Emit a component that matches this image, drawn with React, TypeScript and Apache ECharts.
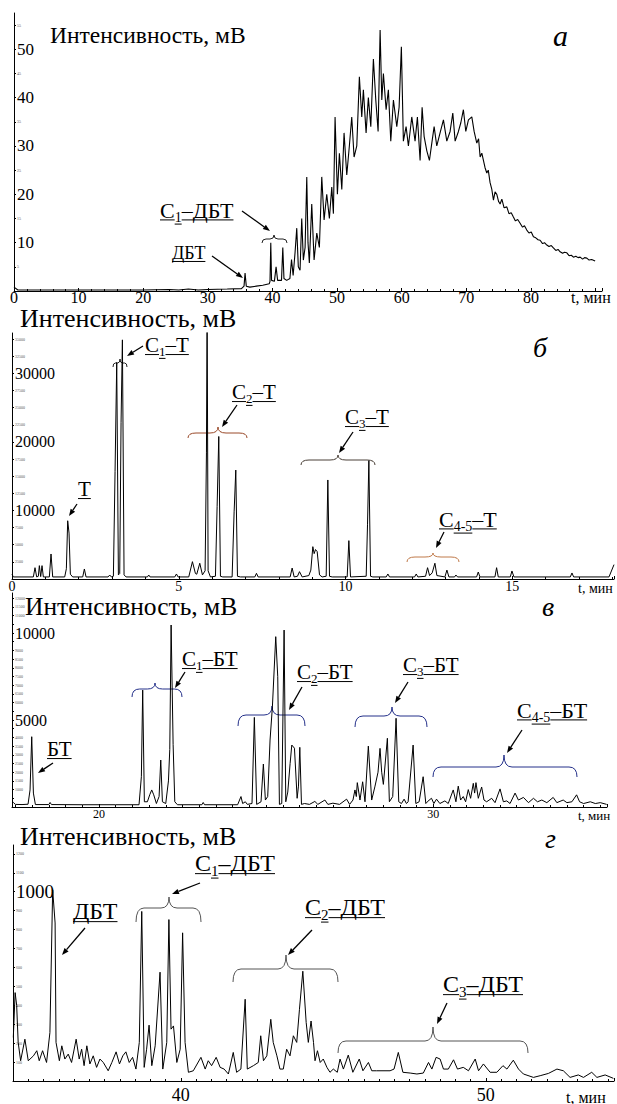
import React, { useEffect, useRef } from 'react';
import * as echarts from 'echarts';

const SERIF = "'Liberation Serif', serif";

// ---------- data (time, min ; intensity, mV) ----------
const traceA: [number, number][] = [
  [0, 0.8], [0.6, 0.2], [5, 0.2], [10, 0.2], [15, 0.2], [20, 0.2], [24, 0.3], [25.5, 0.2], [27, 0.4], [28.5, 0.2],
  [30, 0.3], [33, 0.4], [35.2, 0.5], [35.6, 1.0], [35.76, 3.7], [35.95, 1.0], [36.5, 0.8], [37.5, 1.0], [38.5, 1.2],
  [39.5, 1.5], [39.62, 2], [39.74, 10], [39.86, 2.2], [40.3, 2.0], [40.56, 5], [40.8, 2.2], [41.4, 2.2], [41.6, 9],
  [41.78, 2.6], [42.2, 2.2], [42.7, 2.6], [42.95, 6.5], [43.2, 3.2], [43.5, 8], [43.76, 13], [44.0, 5], [44.27, 4.3],
  [44.53, 15], [44.78, 6.4], [45.05, 9], [45.31, 23.6], [45.5, 10], [45.71, 5.8], [46.08, 18], [46.44, 6.4], [46.86, 12],
  [47.26, 9], [47.63, 23.6], [47.99, 14.7], [48.4, 20], [48.81, 15], [49.18, 21.5], [49.43, 16], [49.69, 36], [50.05, 20],
  [50.36, 28.5], [50.73, 21], [51.08, 32.7], [51.5, 24], [51.9, 30], [52.27, 36], [52.63, 27.7], [53.05, 30], [53.45, 44.3],
  [53.82, 36], [54.07, 41.6], [54.49, 32.7], [54.84, 40], [55.22, 34], [55.62, 48], [55.99, 39.5], [56.35, 33], [56.66, 54],
  [56.92, 39.5], [57.17, 45], [57.59, 37.5], [57.94, 41.6], [58.31, 31], [58.72, 39.5], [59.24, 34], [59.6, 38], [59.95, 50.5],
  [60.26, 31], [60.68, 34], [61.04, 30], [61.56, 36], [62.07, 31], [62.43, 36], [62.85, 27], [63.16, 38], [63.47, 32],
  [63.89, 29], [64.29, 27], [64.66, 30.6], [65.02, 34], [65.43, 30], [65.94, 32.7], [66.46, 35.4], [66.98, 31], [67.49, 33],
  [67.91, 36.8], [68.27, 31], [68.78, 33], [69.15, 34.8], [69.55, 37.5], [69.92, 33], [70.33, 35.4], [70.85, 36], [71.21, 33],
  [71.62, 30.6], [71.9, 31.5], [72.14, 27.7], [72.4, 28.5], [72.65, 27], [72.9, 25.5], [73.17, 24.4], [73.4, 25], [73.68, 22.4],
  [73.95, 21], [74.2, 18.8], [74.45, 20.5], [74.72, 20], [75.0, 18.5], [75.23, 18], [75.5, 19], [75.85, 17.2], [76.27, 17.4],
  [76.6, 16], [76.95, 16.2], [77.29, 15.3], [77.6, 14.5], [77.95, 14.8], [78.33, 14], [78.7, 13.2], [79.0, 13.5], [79.36, 12.6],
  [79.7, 12.0], [80.05, 12.2], [80.39, 11.2], [80.75, 11.0], [81.1, 10.6], [81.42, 10.5], [81.8, 9.8], [82.1, 10.0], [82.46, 9.5],
  [82.8, 9.2], [83.15, 9.4], [83.48, 8.9], [83.85, 8.4], [84.2, 8.6], [84.52, 8.1], [84.9, 7.8], [85.2, 8.0], [85.56, 7.9],
  [85.9, 7.3], [86.25, 7.4], [86.58, 7.0], [86.95, 7.2], [87.3, 6.9], [87.62, 7], [88.0, 6.6], [88.3, 6.9], [88.65, 6.8],
  [89.0, 6.4], [89.4, 6.5], [89.94, 6.2],
];

const traceB: [number, number][] = [
  [0, 700], [0.04, 300], [0.64, 300], [0.69, 1650], [0.74, 300], [0.79, 400], [0.82, 1950], [0.86, 350], [0.9, 1950],
  [0.94, 300], [1.12, 300], [1.17, 3650], [1.22, 300], [1.58, 300], [1.63, 1500], [1.67, 8500], [1.71, 6700], [1.75, 700],
  [1.82, 300], [2.12, 300], [2.17, 1460], [2.22, 300], [2.88, 300], [2.93, 580], [2.98, 300], [3.04, 400], [3.09, 15660],
  [3.14, 31600], [3.19, 600], [3.23, 800], [3.27, 22800], [3.31, 34900], [3.36, 600], [3.42, 300], [4.06, 300], [4.1, 580],
  [4.14, 300], [4.88, 300], [4.93, 730], [4.98, 300], [5.3, 300], [5.41, 2530], [5.5, 800], [5.54, 700], [5.63, 2300],
  [5.71, 600], [5.79, 1200], [5.83, 18400], [5.85, 40000], [5.88, 1200], [5.95, 300], [6.1, 400], [6.15, 10560], [6.2, 20800],
  [6.25, 400], [6.32, 300], [6.6, 300], [6.66, 9800], [6.71, 15900], [6.76, 400], [6.85, 300], [7.28, 300], [7.33, 830],
  [7.38, 300], [8.34, 300], [8.4, 1600], [8.46, 300], [8.56, 400], [8.62, 1070], [8.7, 300], [8.9, 500], [8.96, 1300],
  [9.02, 4720], [9.06, 3700], [9.1, 4300], [9.15, 4000], [9.22, 600], [9.3, 300], [9.42, 400], [9.47, 14450], [9.52, 400],
  [9.6, 300], [10.05, 300], [10.1, 5600], [10.15, 300], [10.62, 400], [10.66, 8000], [10.7, 17270], [10.75, 400], [10.82, 300],
  [11.22, 300], [11.27, 730], [11.32, 300], [12.07, 300], [12.12, 730], [12.17, 300], [12.4, 400], [12.46, 1650], [12.52, 500],
  [12.6, 900], [12.68, 2300], [12.74, 500], [12.98, 300], [13.04, 1300], [13.1, 300], [13.27, 300], [13.31, 580], [13.36, 300],
  [13.93, 300], [13.98, 1020], [14.03, 300], [14.48, 300], [14.53, 1650], [14.58, 300], [14.94, 300], [14.99, 1170], [15.05, 300],
  [16.74, 300], [16.79, 880], [16.84, 300], [17.9, 300], [18.05, 2100],
];

const traceC: [number, number][] = [
  [17.4, 200], [17.44, 260], [17.5, 150], [17.7, 140], [17.88, 160], [17.94, 980], [17.99, 4040], [18.04, 800], [18.1, 140],
  [18.5, 140], [18.54, 260], [18.58, 140], [19.5, 130], [20.5, 130], [21.2, 130], [21.27, 1740], [21.31, 6720], [21.36, 300],
  [21.45, 300], [21.52, 700], [21.58, 980], [21.64, 700], [21.72, 200], [21.8, 600], [21.85, 2700], [21.9, 300], [22.0, 200],
  [22.08, 1500], [22.12, 3300], [22.16, 10460], [22.22, 3600], [22.27, 300], [22.35, 130], [23.08, 130], [23.12, 260],
  [23.16, 130], [24.15, 130], [24.25, 600], [24.3, 200], [24.38, 300], [24.44, 150], [24.58, 200], [24.65, 5150], [24.72, 150],
  [24.85, 300], [24.92, 2470], [24.98, 400], [25.05, 600], [25.12, 3850], [25.19, 5760], [25.29, 9790], [25.35, 7490],
  [25.4, 150], [25.47, 200], [25.54, 10170], [25.59, 300], [25.65, 860], [25.72, 2500], [25.77, 3560], [25.85, 3380],
  [25.93, 500], [25.97, 1200], [26.01, 3430], [26.06, 150], [26.15, 200], [26.3, 150], [26.46, 320], [26.55, 150], [26.76, 400],
  [26.85, 150], [27.0, 220], [27.2, 150], [27.41, 450], [27.5, 150], [27.6, 400], [27.66, 980], [27.7, 600], [27.73, 1400],
  [27.81, 400], [27.89, 1450], [27.96, 300], [28.06, 3500], [28.16, 400], [28.26, 1200], [28.35, 2000], [28.41, 3370],
  [28.46, 2000], [28.51, 1300], [28.63, 3950], [28.69, 300], [28.79, 600], [28.89, 5100], [28.97, 300], [29.05, 200],
  [29.13, 450], [29.2, 200], [29.25, 300], [29.4, 3560], [29.48, 200], [29.58, 300], [29.7, 1740], [29.78, 200], [29.88, 400],
  [29.95, 500], [30.02, 200], [30.1, 450], [30.2, 200], [30.35, 350], [30.45, 200], [30.6, 980], [30.68, 300], [30.75, 1200],
  [30.82, 400], [30.9, 600], [30.97, 300], [31.05, 1000], [31.12, 500], [31.2, 1360], [31.24, 800], [31.28, 1400], [31.35, 500],
  [31.45, 1150], [31.52, 400], [31.6, 300], [31.75, 500], [31.85, 250], [32.0, 1040], [32.1, 300], [32.2, 350], [32.3, 200],
  [32.45, 800], [32.55, 400], [32.7, 550], [32.85, 250], [33.0, 500], [33.12, 300], [33.25, 400], [33.4, 250], [33.59, 550],
  [33.7, 250], [33.89, 400], [34.0, 250], [34.15, 300], [34.29, 700], [34.38, 300], [34.5, 200], [34.7, 300], [34.85, 200],
  [35.0, 250], [35.19, 150],
];

const traceD: [number, number][] = [
  [34.51, 230], [34.57, 467], [34.62, 400], [34.67, 204], [34.75, 107], [34.89, 221], [35.0, 107], [35.17, 133], [35.28, 160],
  [35.36, 107], [35.47, 160], [35.6, 98], [35.71, 256], [35.8, 1010], [35.88, 835], [35.91, 204], [36.02, 107], [36.1, 186],
  [36.2, 116], [36.31, 142], [36.42, 98], [36.57, 221], [36.67, 116], [36.75, 168], [36.83, 81], [36.92, 186], [37.02, 90],
  [37.13, 133], [37.24, 72], [37.35, 116], [37.46, 98], [37.62, 54], [37.74, 98], [37.88, 154], [37.99, 90], [38.1, 133],
  [38.2, 154], [38.31, 98], [38.42, 125], [38.53, 63], [38.64, 204], [38.72, 896], [38.8, 72], [38.88, 168], [38.96, 295],
  [39.05, 81], [39.16, 186], [39.32, 575], [39.41, 63], [39.54, 204], [39.61, 853], [39.68, 274], [39.76, 291], [39.87, 98],
  [39.98, 168], [40.06, 783], [40.14, 204], [40.25, 46], [40.41, 54], [40.66, 125], [40.8, 63], [40.9, 107], [41.01, 81],
  [41.16, 125], [41.29, 72], [41.42, 63], [41.56, 37], [41.72, 151], [41.83, 46], [41.97, 63], [42.11, 432], [42.18, 63],
  [42.38, 81], [42.54, 98], [42.62, 239], [42.71, 107], [42.82, 133], [42.95, 326], [43.03, 204], [43.15, 133], [43.25, 63],
  [43.36, 63], [43.47, 168], [43.58, 133], [43.69, 239], [43.8, 204], [43.89, 379], [44.0, 580], [44.11, 309], [44.18, 204],
  [44.27, 317], [44.35, 204], [44.4, 107], [44.48, 160], [44.57, 98], [44.67, 116], [44.79, 72], [44.89, 46], [45.0, 63],
  [45.13, 46], [45.22, 116], [45.33, 63], [45.49, 137], [45.64, 46], [45.85, 116], [45.97, 54], [46.15, 98], [46.26, 54],
  [46.42, 54], [46.86, 54], [46.99, 63], [47.13, 151], [47.28, 46], [47.52, 42], [47.74, 37], [47.95, 42], [48.12, 98],
  [48.23, 63], [48.37, 125], [48.5, 116], [48.61, 63], [48.77, 63], [48.94, 112], [49.07, 63], [49.26, 72], [49.43, 54],
  [49.65, 116], [49.76, 54], [49.92, 90], [50.14, 46], [50.36, 46], [50.56, 81], [50.69, 63], [50.9, 110], [51.07, 63],
  [51.23, 37], [51.56, 19], [51.78, 28], [52.05, 40], [52.33, 63], [52.54, 54], [52.76, 19], [53.03, 32], [53.2, 19],
  [53.47, 46], [53.64, 19], [53.91, 32], [54.18, 14],
];

const traces = [traceA, traceB, traceC, traceD];

// axis ranges
const xMins = [0, 0, 17.4, 34.5];
const xMaxs = [91, 18.05, 35.2, 54.2];
const xLastLabel = [80, 15, 30, 50];
const yMaxs = [57.5, 35900, 12300, 1247];
const yIntervals = [5, 2500, 500, 100];
const yBigEvery = [10, 10000, 5000, 1000];
const hideMinorNearMajor = [false, false, true, false];

// texts
const yTitle = 'Интенсивность, мВ';
const xUnit = 't, мин';
const panelLetters = ['а', 'б', 'в', 'г'];
const peakLabels = [
  'С_1_–ДБТ', 'ДБТ',
  'Т', 'С_1_–Т', 'С_2_–Т', 'С_3_–Т', 'С_4-5_–Т',
  'БТ', 'С_1_–БТ', 'С_2_–БТ', 'С_3_–БТ', 'С_4-5_–БТ',
  'С_1_–ДБТ', 'ДБТ', 'С_2_–ДБТ', 'С_3_–ДБТ',
];

// ---------- layout ----------
const GRIDS = [
  { left: 14, top: 13, width: 588, height: 278 },
  { left: 12, top: 333, width: 602, height: 246 },
  { left: 12, top: 593, width: 595, height: 214 },
  { left: 13, top: 845, width: 601, height: 237 },
];
const X_LABEL = [
  { size: 16, margin: -2, minor: 5, interval: 10 },
  { size: 14, margin: 0, minor: 5, interval: 5 },
  { size: 12, margin: 1, minor: 20, interval: 0 },
  { size: 18, margin: 5, minor: 20, interval: 0 },
];
const Y_BIG_SIZE = [17, 16, 16, 19];
const TITLE_POS = [
  { x: 50, y: 35, size: 23.5 }, { x: 20, y: 318, size: 26 }, { x: 25, y: 606, size: 25.5 }, { x: 20, y: 836, size: 26 },
];
const LETTER_POS = [
  { x: 553, y: 35, size: 30 }, { x: 533, y: 347, size: 28 }, { x: 542, y: 606, size: 28 }, { x: 545, y: 838, size: 28 },
];
const UNIT_POS = [
  { x: 571, y: 297, size: 16 }, { x: 578, y: 588, size: 14 }, { x: 578, y: 815, size: 13 }, { x: 566, y: 1097, size: 16 },
];
const LABEL_POS = [
  { x: 160, y: 210, size: 22 }, { x: 172, y: 253, size: 18 },
  { x: 78, y: 489, size: 21 }, { x: 145, y: 345, size: 21 }, { x: 232, y: 392, size: 21 }, { x: 345, y: 417, size: 21 }, { x: 439, y: 519, size: 22 },
  { x: 47, y: 749, size: 21 }, { x: 182, y: 659, size: 21 }, { x: 297, y: 672, size: 21 }, { x: 403, y: 665, size: 21 }, { x: 517, y: 710, size: 22 },
  { x: 195, y: 863, size: 24 }, { x: 73, y: 911, size: 24 }, { x: 305, y: 907, size: 24 }, { x: 443, y: 984, size: 24 },
];
const ARROWS = [
  [242, 211, 270, 231], [212, 256, 243, 278],
  [77, 504, 69, 516], [143, 346, 127, 356], [237, 405, 222, 427], [353, 432, 339, 453], [444, 532, 436, 548],
  [53, 763, 38, 773], [185, 672, 175, 688], [302, 687, 289, 710], [408, 682, 395, 703], [522, 730, 507, 753],
  [200, 883, 172, 894], [85, 928, 62, 955], [312, 930, 288, 955], [447, 1003, 437, 1024],
];
const BRACES = [
  { x1: 262, x2: 287, y: 239, xm: 274, up: 4, down: 4, color: '#222' },
  { x1: 113, x2: 127, y: 363, xm: 120, up: 4, down: 4, color: '#222' },
  { x1: 188, x2: 247, y: 433, xm: 218, up: 6, down: 5, color: '#9a4a2a' },
  { x1: 301, x2: 375, y: 460, xm: 338, up: 5, down: 5, color: '#4a4038' },
  { x1: 407, x2: 459, y: 557, xm: 433, up: 4, down: 5, color: '#c07a4a' },
  { x1: 132, x2: 182, y: 689, xm: 155, up: 6, down: 8, color: '#24308a' },
  { x1: 238, x2: 305, y: 715, xm: 272, up: 9, down: 11, color: '#24308a' },
  { x1: 355, x2: 427, y: 716, xm: 392, up: 9, down: 11, color: '#24308a' },
  { x1: 433, x2: 577, y: 767, xm: 504, up: 12, down: 10, color: '#24308a' },
  { x1: 136, x2: 201, y: 908, xm: 169, up: 11, down: 14, color: '#555' },
  { x1: 233, x2: 338, y: 969, xm: 286, up: 14, down: 13, color: '#555' },
  { x1: 338, x2: 528, y: 1041, xm: 433, up: 14, down: 12, color: '#555' },
];

let measureCtx: CanvasRenderingContext2D | null = null;
function measure(text: string, size: number, italic = false): number {
  if (!measureCtx) measureCtx = document.createElement('canvas').getContext('2d');
  if (!measureCtx) return text.length * size * 0.5;
  measureCtx.font = `${italic ? 'italic ' : ''}${size}px ${SERIF}`;
  return measureCtx.measureText(text).width;
}

function txt(x: number, y: number, text: string, size: number, extra: any = {}) {
  return {
    type: 'text', x, y, silent: true,
    style: {
      text, fontSize: size, fontFamily: SERIF, fill: '#000',
      align: 'left', verticalAlign: 'middle', ...extra,
    },
  };
}

function peakLabel(x: number, cy: number, size: number, text: string) {
  const parts = text.split('_');
  const els: any[] = [];
  let cx = x;
  parts.forEach((p, i) => {
    if (!p) return;
    const sub = i % 2 === 1;
    const fs = sub ? Math.round(size * 0.62) : size;
    const yy = sub ? cy + size * 0.32 : cy;
    const w = measure(p, fs);
    els.push(txt(cx, yy, p, fs));
    const uy = yy + fs * 0.36 + 2;
    els.push({ type: 'line', silent: true, shape: { x1: cx, y1: uy, x2: cx + w, y2: uy }, style: { stroke: '#000', lineWidth: 1 } });
    cx += w;
  });
  return els;
}

function arrow(x1: number, y1: number, x2: number, y2: number) {
  const head = 7;
  const a = Math.atan2(y2 - y1, x2 - x1);
  const bx = x2 - head * Math.cos(a);
  const by = y2 - head * Math.sin(a);
  const px = -Math.sin(a) * head * 0.38;
  const py = Math.cos(a) * head * 0.38;
  return [
    { type: 'line', silent: true, shape: { x1, y1, x2: bx, y2: by }, style: { stroke: '#000', lineWidth: 1.3 } },
    { type: 'polygon', silent: true, shape: { points: [[x2, y2], [bx + px, by + py], [bx - px, by - py]] }, style: { fill: '#000' } },
  ];
}

function brace(b: { x1: number; x2: number; y: number; xm: number; up: number; down: number; color: string }) {
  const r = Math.max(2, Math.min(8, (b.xm - b.x1) / 3, (b.x2 - b.xm) / 3));
  const st = { stroke: b.color, fill: 'none', lineWidth: 1 };
  const bz = (x1: number, y1: number, cx: number, cy: number, x2: number, y2: number) => ({
    type: 'bezierCurve', silent: true, shape: { x1, y1, x2, y2, cpx1: cx, cpy1: cy }, style: st,
  });
  const ln = (x1: number, x2: number) => ({ type: 'line', silent: true, shape: { x1, y1: b.y, x2, y2: b.y }, style: st });
  return [
    bz(b.x1, b.y + b.down, b.x1, b.y, b.x1 + r, b.y),
    ln(b.x1 + r, b.xm - r),
    bz(b.xm - r, b.y, b.xm, b.y, b.xm, b.y - b.up),
    bz(b.xm, b.y - b.up, b.xm, b.y, b.xm + r, b.y),
    ln(b.xm + r, b.x2 - r),
    bz(b.x2 - r, b.y, b.x2, b.y, b.x2, b.y + b.down),
  ];
}

function yLabel(i: number, v: number): string {
  if (v === 0) return '';
  const big = yBigEvery[i];
  const rem = Math.abs(v % big);
  if (rem < 1e-6) return `{b|${v}}`;
  if (hideMinorNearMajor[i] && (rem <= yIntervals[i] + 1e-6 || big - rem <= yIntervals[i] + 1e-6)) return '';
  return `{s|${v}}`;
}

function buildOption() {
  const xAxis = GRIDS.map((_, i) => {
    const xl = X_LABEL[i];
    const ax: any = {
      type: 'value', gridIndex: i, min: xMins[i], max: xMaxs[i],
      axisLine: { show: true, onZero: false, lineStyle: { color: '#000', width: 1 } },
      axisTick: { show: true, inside: true, length: 3, lineStyle: { color: '#000' } },
      minorTick: { show: true, splitNumber: xl.minor, length: 2, lineStyle: { color: '#000' } },
      splitLine: { show: false },
      minorSplitLine: { show: false },
      axisLabel: {
        margin: xl.margin, fontSize: xl.size, fontFamily: SERIF, color: '#000',
        showMinLabel: xMins[i] === 0, showMaxLabel: false,
        formatter: (v: number) => (v > xLastLabel[i] + 1e-6 || (xMins[i] !== 0 && v === xMins[i]) ? '' : String(v)),
      },
    };
    if (xl.interval) ax.interval = xl.interval;
    else ax.splitNumber = 2;
    return ax;
  });
  const yAxis = GRIDS.map((_, i) => ({
    type: 'value', gridIndex: i, min: 0, max: yMaxs[i], interval: yIntervals[i],
    axisLine: { show: true, lineStyle: { color: '#000', width: 1 } },
    axisTick: { show: true, inside: true, length: 2, lineStyle: { color: '#000' } },
    splitLine: { show: false },
    axisLabel: {
      inside: true, margin: 3, showMinLabel: false, showMaxLabel: false,
      formatter: (v: number) => yLabel(i, v),
      rich: {
        b: { fontSize: Y_BIG_SIZE[i], fontFamily: SERIF, color: '#000' },
        s: { fontSize: 4, fontFamily: SERIF, color: '#555' },
      },
    },
  }));
  const series = traces.map((d, i) => ({
    type: 'line', xAxisIndex: i, yAxisIndex: i, data: d, symbol: 'none', showSymbol: false, clip: true, silent: true,
    lineStyle: { color: '#000', width: i === 0 ? 1.1 : 1 },
  }));

  const elements: any[] = [];
  TITLE_POS.forEach((p) => elements.push(txt(p.x, p.y, yTitle, p.size)));
  LETTER_POS.forEach((p, i) => elements.push(txt(p.x, p.y, panelLetters[i], p.size, { fontStyle: 'italic' })));
  UNIT_POS.forEach((p) => elements.push(txt(p.x, p.y, xUnit, p.size)));
  LABEL_POS.forEach((p, i) => elements.push(...peakLabel(p.x, p.y, p.size, peakLabels[i])));
  ARROWS.forEach((a) => elements.push(...arrow(a[0], a[1], a[2], a[3])));
  BRACES.forEach((b) => elements.push(...brace(b)));

  return {
    animation: false,
    backgroundColor: '#fff',
    textStyle: { fontFamily: SERIF },
    grid: GRIDS.map((g) => ({ ...g, containLabel: false })),
    xAxis, yAxis, series,
    graphic: { elements },
  };
}

export default function App() {
  const ref = useRef<HTMLDivElement>(null);
  useEffect(() => {
    if (!ref.current) return;
    const chart = echarts.init(ref.current, undefined, { renderer: 'svg' });
    chart.setOption(buildOption() as any);
    return () => chart.dispose();
  }, []);
  return <div ref={ref} style={{ position: 'absolute', left: 0, top: 0, width: 617, height: 1104, background: '#fff' }} />;
}
